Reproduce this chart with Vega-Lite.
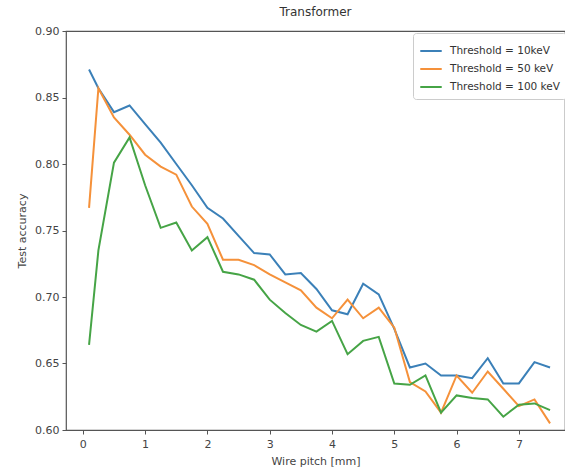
{
  "$schema": "https://vega.github.io/schema/vega-lite/v6.json",
  "autosize": {"type": "none"},
  "padding": {"left": 66, "top": 31, "right": 0, "bottom": 39},
  "width": 499,
  "height": 399,
  "background": "white",
  "config": {
    "font": "DejaVu Sans",
    "view": {"stroke": "#555555", "strokeWidth": 1.2},
    "axis": {
      "grid": false,
      "domain": false,
      "tickColor": "#555555",
      "tickSize": 4,
      "labelFontSize": 11,
      "labelColor": "#444444",
      "titleFontSize": 11,
      "titleFontWeight": "normal",
      "titleColor": "#444444"
    }
  },
  "title": {
    "text": "Transformer",
    "fontSize": 12,
    "fontWeight": "normal",
    "color": "#333333",
    "offset": 6
  },
  "data": {
    "values": [
      {"pitch": 0.1, "acc": 0.871, "series": "Threshold = 10keV"},
      {"pitch": 0.25, "acc": 0.857, "series": "Threshold = 10keV"},
      {"pitch": 0.5, "acc": 0.839, "series": "Threshold = 10keV"},
      {"pitch": 0.75, "acc": 0.844, "series": "Threshold = 10keV"},
      {"pitch": 1.0, "acc": 0.830, "series": "Threshold = 10keV"},
      {"pitch": 1.25, "acc": 0.816, "series": "Threshold = 10keV"},
      {"pitch": 1.5, "acc": 0.800, "series": "Threshold = 10keV"},
      {"pitch": 1.75, "acc": 0.784, "series": "Threshold = 10keV"},
      {"pitch": 2.0, "acc": 0.767, "series": "Threshold = 10keV"},
      {"pitch": 2.25, "acc": 0.759, "series": "Threshold = 10keV"},
      {"pitch": 2.5, "acc": 0.746, "series": "Threshold = 10keV"},
      {"pitch": 2.75, "acc": 0.733, "series": "Threshold = 10keV"},
      {"pitch": 3.0, "acc": 0.732, "series": "Threshold = 10keV"},
      {"pitch": 3.25, "acc": 0.717, "series": "Threshold = 10keV"},
      {"pitch": 3.5, "acc": 0.718, "series": "Threshold = 10keV"},
      {"pitch": 3.75, "acc": 0.706, "series": "Threshold = 10keV"},
      {"pitch": 4.0, "acc": 0.690, "series": "Threshold = 10keV"},
      {"pitch": 4.25, "acc": 0.687, "series": "Threshold = 10keV"},
      {"pitch": 4.5, "acc": 0.710, "series": "Threshold = 10keV"},
      {"pitch": 4.75, "acc": 0.702, "series": "Threshold = 10keV"},
      {"pitch": 5.0, "acc": 0.676, "series": "Threshold = 10keV"},
      {"pitch": 5.25, "acc": 0.647, "series": "Threshold = 10keV"},
      {"pitch": 5.5, "acc": 0.650, "series": "Threshold = 10keV"},
      {"pitch": 5.75, "acc": 0.641, "series": "Threshold = 10keV"},
      {"pitch": 6.0, "acc": 0.641, "series": "Threshold = 10keV"},
      {"pitch": 6.25, "acc": 0.639, "series": "Threshold = 10keV"},
      {"pitch": 6.5, "acc": 0.654, "series": "Threshold = 10keV"},
      {"pitch": 6.75, "acc": 0.635, "series": "Threshold = 10keV"},
      {"pitch": 7.0, "acc": 0.635, "series": "Threshold = 10keV"},
      {"pitch": 7.25, "acc": 0.651, "series": "Threshold = 10keV"},
      {"pitch": 7.5, "acc": 0.647, "series": "Threshold = 10keV"},

      {"pitch": 0.1, "acc": 0.767, "series": "Threshold = 50 keV"},
      {"pitch": 0.25, "acc": 0.857, "series": "Threshold = 50 keV"},
      {"pitch": 0.5, "acc": 0.835, "series": "Threshold = 50 keV"},
      {"pitch": 0.75, "acc": 0.822, "series": "Threshold = 50 keV"},
      {"pitch": 1.0, "acc": 0.807, "series": "Threshold = 50 keV"},
      {"pitch": 1.25, "acc": 0.798, "series": "Threshold = 50 keV"},
      {"pitch": 1.5, "acc": 0.792, "series": "Threshold = 50 keV"},
      {"pitch": 1.75, "acc": 0.768, "series": "Threshold = 50 keV"},
      {"pitch": 2.0, "acc": 0.755, "series": "Threshold = 50 keV"},
      {"pitch": 2.25, "acc": 0.728, "series": "Threshold = 50 keV"},
      {"pitch": 2.5, "acc": 0.728, "series": "Threshold = 50 keV"},
      {"pitch": 2.75, "acc": 0.724, "series": "Threshold = 50 keV"},
      {"pitch": 3.0, "acc": 0.717, "series": "Threshold = 50 keV"},
      {"pitch": 3.25, "acc": 0.711, "series": "Threshold = 50 keV"},
      {"pitch": 3.5, "acc": 0.705, "series": "Threshold = 50 keV"},
      {"pitch": 3.75, "acc": 0.692, "series": "Threshold = 50 keV"},
      {"pitch": 4.0, "acc": 0.684, "series": "Threshold = 50 keV"},
      {"pitch": 4.25, "acc": 0.698, "series": "Threshold = 50 keV"},
      {"pitch": 4.5, "acc": 0.684, "series": "Threshold = 50 keV"},
      {"pitch": 4.75, "acc": 0.692, "series": "Threshold = 50 keV"},
      {"pitch": 5.0, "acc": 0.677, "series": "Threshold = 50 keV"},
      {"pitch": 5.25, "acc": 0.636, "series": "Threshold = 50 keV"},
      {"pitch": 5.5, "acc": 0.629, "series": "Threshold = 50 keV"},
      {"pitch": 5.75, "acc": 0.613, "series": "Threshold = 50 keV"},
      {"pitch": 6.0, "acc": 0.641, "series": "Threshold = 50 keV"},
      {"pitch": 6.25, "acc": 0.628, "series": "Threshold = 50 keV"},
      {"pitch": 6.5, "acc": 0.644, "series": "Threshold = 50 keV"},
      {"pitch": 6.75, "acc": 0.631, "series": "Threshold = 50 keV"},
      {"pitch": 7.0, "acc": 0.618, "series": "Threshold = 50 keV"},
      {"pitch": 7.25, "acc": 0.623, "series": "Threshold = 50 keV"},
      {"pitch": 7.5, "acc": 0.605, "series": "Threshold = 50 keV"},

      {"pitch": 0.1, "acc": 0.664, "series": "Threshold = 100 keV"},
      {"pitch": 0.25, "acc": 0.735, "series": "Threshold = 100 keV"},
      {"pitch": 0.5, "acc": 0.801, "series": "Threshold = 100 keV"},
      {"pitch": 0.75, "acc": 0.820, "series": "Threshold = 100 keV"},
      {"pitch": 1.0, "acc": 0.784, "series": "Threshold = 100 keV"},
      {"pitch": 1.25, "acc": 0.752, "series": "Threshold = 100 keV"},
      {"pitch": 1.5, "acc": 0.756, "series": "Threshold = 100 keV"},
      {"pitch": 1.75, "acc": 0.735, "series": "Threshold = 100 keV"},
      {"pitch": 2.0, "acc": 0.745, "series": "Threshold = 100 keV"},
      {"pitch": 2.25, "acc": 0.719, "series": "Threshold = 100 keV"},
      {"pitch": 2.5, "acc": 0.717, "series": "Threshold = 100 keV"},
      {"pitch": 2.75, "acc": 0.713, "series": "Threshold = 100 keV"},
      {"pitch": 3.0, "acc": 0.698, "series": "Threshold = 100 keV"},
      {"pitch": 3.25, "acc": 0.688, "series": "Threshold = 100 keV"},
      {"pitch": 3.5, "acc": 0.679, "series": "Threshold = 100 keV"},
      {"pitch": 3.75, "acc": 0.674, "series": "Threshold = 100 keV"},
      {"pitch": 4.0, "acc": 0.682, "series": "Threshold = 100 keV"},
      {"pitch": 4.25, "acc": 0.657, "series": "Threshold = 100 keV"},
      {"pitch": 4.5, "acc": 0.667, "series": "Threshold = 100 keV"},
      {"pitch": 4.75, "acc": 0.670, "series": "Threshold = 100 keV"},
      {"pitch": 5.0, "acc": 0.635, "series": "Threshold = 100 keV"},
      {"pitch": 5.25, "acc": 0.634, "series": "Threshold = 100 keV"},
      {"pitch": 5.5, "acc": 0.641, "series": "Threshold = 100 keV"},
      {"pitch": 5.75, "acc": 0.613, "series": "Threshold = 100 keV"},
      {"pitch": 6.0, "acc": 0.626, "series": "Threshold = 100 keV"},
      {"pitch": 6.25, "acc": 0.624, "series": "Threshold = 100 keV"},
      {"pitch": 6.5, "acc": 0.623, "series": "Threshold = 100 keV"},
      {"pitch": 6.75, "acc": 0.610, "series": "Threshold = 100 keV"},
      {"pitch": 7.0, "acc": 0.619, "series": "Threshold = 100 keV"},
      {"pitch": 7.25, "acc": 0.620, "series": "Threshold = 100 keV"},
      {"pitch": 7.5, "acc": 0.615, "series": "Threshold = 100 keV"}
    ]
  },
  "mark": {"type": "line", "strokeWidth": 2, "clip": true},
  "encoding": {
    "x": {
      "field": "pitch",
      "type": "quantitative",
      "title": "Wire pitch [mm]",
      "scale": {"domain": [-0.27, 7.74], "nice": false, "zero": false},
      "axis": {"values": [0, 1, 2, 3, 4, 5, 6, 7], "labelPadding": 4, "titlePadding": 6}
    },
    "y": {
      "field": "acc",
      "type": "quantitative",
      "title": "Test accuracy",
      "scale": {"domain": [0.6, 0.9], "nice": false, "zero": false},
      "axis": {"values": [0.6, 0.65, 0.7, 0.75, 0.8, 0.85, 0.9], "format": ".2f", "labelPadding": 3, "titlePadding": 7}
    },
    "color": {
      "field": "series",
      "type": "nominal",
      "scale": {
        "domain": ["Threshold = 10keV", "Threshold = 50 keV", "Threshold = 100 keV"],
        "range": ["#3b80b8", "#f5913a", "#46a446"]
      },
      "legend": {
        "title": null,
        "orient": "none",
        "legendX": 347,
        "legendY": 2,
        "padding": 6,
        "fillColor": "white",
        "strokeColor": "#cccccc",
        "cornerRadius": 3,
        "symbolType": "stroke",
        "symbolSize": 460,
        "symbolStrokeWidth": 2,
        "labelFontSize": 10.5,
        "labelColor": "#333333",
        "rowPadding": -3,
        "labelOffset": 7
      }
    }
  }
}
